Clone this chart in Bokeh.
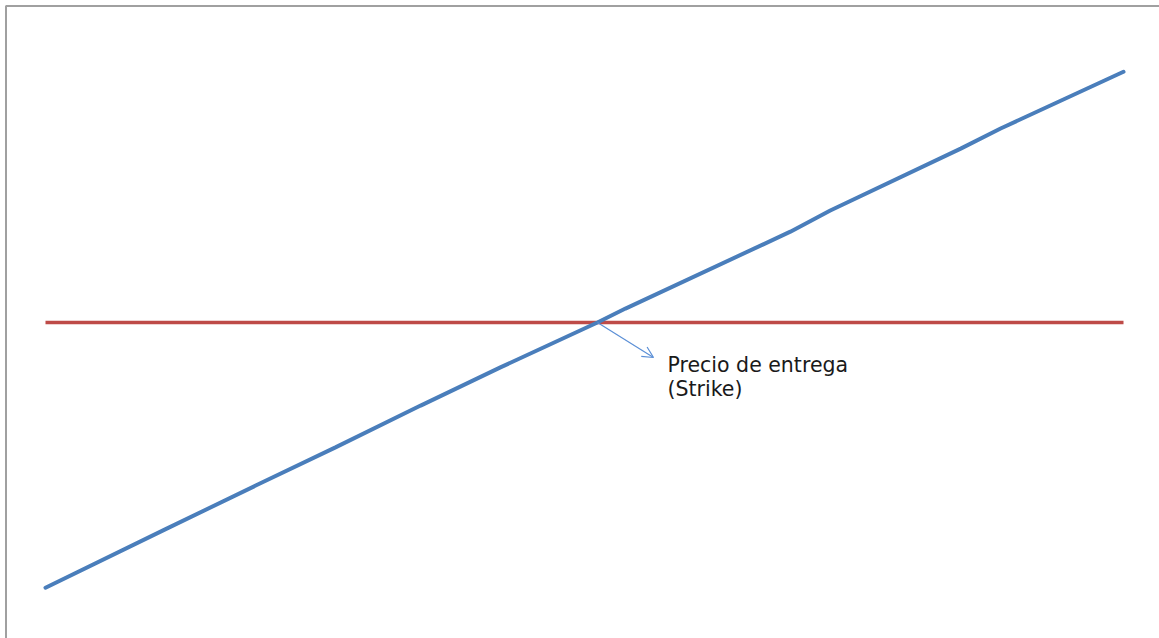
from bokeh.plotting import figure
from bokeh.models import Range1d, Arrow, OpenHead, Label
from bokeh.embed import file_html
from bokeh.resources import INLINE

# Forward contract payoff: underlying price vs. profit/loss, with the strike level
spot = [0, 11.1, 19.5, 26.9, 34.8, 42.2, 51.2, 53.8, 69.1, 72.8, 84.9, 88.6, 100]
payoff = [-51.4, -40.1, -31.6, -24.2, -16.1, -8.7, 0.0, 2.7, 17.6, 21.7, 33.7, 37.6, 48.6]
level_x = [0, 100]
level_y = [0.0, 0.0]
strike = 51.2
label_lines = ["Precio de entrega", "(Strike)"]

W, H = 1159, 638
# canvas geometry: pixels per unit and origin placement
X0_PX, X_SCALE = 45.0, 10.78
Y0_PX, Y_SCALE = 322.0, 5.16


def px2x(px):
    return (px - X0_PX) / X_SCALE


def px2y(py):
    return (Y0_PX - py) / Y_SCALE


p = figure(
    width=W, height=H,
    x_range=Range1d(px2x(0), px2x(W)),
    y_range=Range1d(px2y(H), px2y(0)),
    x_axis_location=None, y_axis_location=None,
    toolbar_location=None, output_backend="svg",
    min_border=0, outline_line_color=None,
)
p.grid.visible = False
p.background_fill_color = "white"

# chart-area border (left and top edges)
p.line([px2x(5.5), px2x(5.5), px2x(W + 20)],
       [px2y(H + 20), px2y(5.5), px2y(5.5)],
       line_color="#a0a0a0", line_width=2)

# strike level
p.line(level_x, level_y, line_color="#be4b48", line_width=3.5)
# payoff line
p.line(spot, payoff, line_color="#4a7ebb", line_width=4, line_cap="round")

# pointer to the strike
p.add_layout(Arrow(
    end=OpenHead(size=11, line_color="#5b8fd6", line_width=1.2),
    x_start=strike, y_start=0.0,
    x_end=px2x(653), y_end=px2y(357),
    line_color="#5b8fd6", line_width=1.2,
))

for i, txt in enumerate(label_lines):
    p.add_layout(Label(
        x=px2x(667), y=px2y(364 + 24 * i), text=txt,
        text_font="DejaVu Sans", text_font_size="20.5px",
        text_color="#1a1a1a", text_baseline="alphabetic",
    ))

open("out.html", "w").write(file_html(p, INLINE))
